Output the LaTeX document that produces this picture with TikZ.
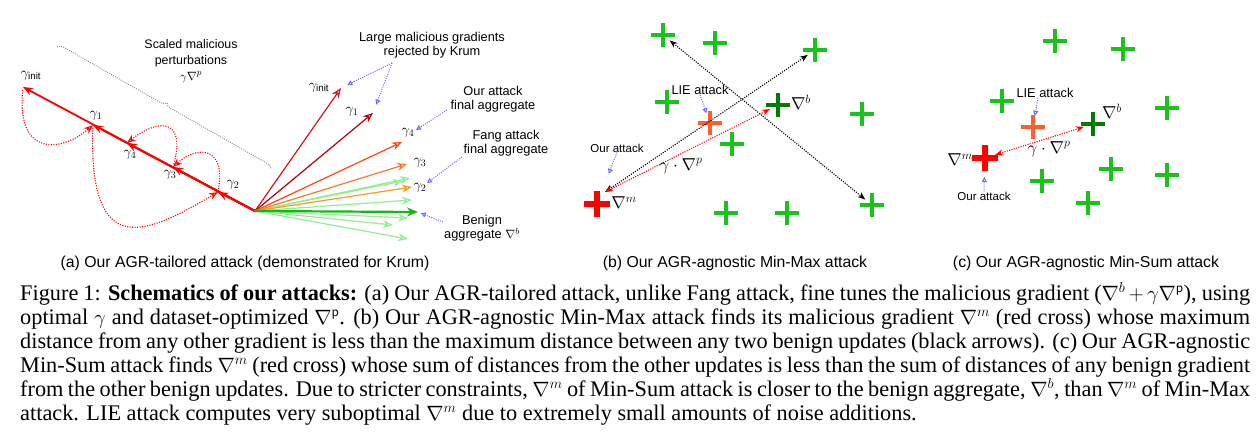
\documentclass[tikz,border=0pt]{standalone}
\usepackage{amsmath}
\usepackage[no-math]{fontspec}
\setmainfont{Liberation Serif}
\setsansfont{Liberation Sans}
\usetikzlibrary{arrows.meta,shapes.misc,decorations.pathreplacing}

\definecolor{crossgreen}{RGB}{25,195,25}
\definecolor{aggrgreen}{RGB}{0,125,0}
\definecolor{liecolor}{RGB}{255,95,45}
\definecolor{hintblue}{RGB}{105,105,255}
\definecolor{fanA}{RGB}{215,20,20}
\definecolor{fanB}{RGB}{185,0,0}
\definecolor{fanC}{RGB}{255,70,20}
\definecolor{fanD}{RGB}{255,120,40}
\definecolor{fanE}{RGB}{255,150,40}
\definecolor{fanlight}{RGB}{145,238,145}
\definecolor{fanbenign}{RGB}{20,185,20}

\tikzset{
  annot/.style={font=\sffamily\fontsize{12.8}{14.5}\selectfont, align=center, inner sep=0pt},
  smallannot/.style={font=\sffamily\fontsize{11.5}{13}\selectfont, inner sep=0pt},
  glabel/.style={font=\fontsize{14}{16}\selectfont, inner sep=0pt},
  mlabel/.style={font=\fontsize{16.5}{18}\selectfont, inner sep=0pt},
  subcap/.style={font=\sffamily\fontsize{15.8}{18}\selectfont, anchor=base, inner sep=0pt},
  gcross/.style={shape=cross out, draw=crossgreen, line width=4.5pt,
    minimum size=12.5pt, inner sep=0pt, rotate=45},
  aggcross/.style={gcross, draw=aggrgreen},
  liecross/.style={gcross, draw=liecolor},
  malcross/.style={gcross, draw=red, line width=5.5pt, minimum size=13.5pt},
  redline/.style={red, line width=1.8pt, -{Stealth[open,length=10pt,width=8pt]}},
  fanarrow/.style={line width=1.2pt, -{Stealth[open,length=10pt,width=8pt]}},
  searchloop/.style={red, line width=1.1pt, dash pattern=on 1.1pt off 1.4pt,
    shorten <=3pt, -{Stealth[open,length=9pt,width=7pt]}},
  hint/.style={hintblue, line width=1pt, dash pattern=on 1pt off 1.3pt,
    -{Triangle[open,length=5pt,width=5pt]}},
  spanarrow/.style={line width=1.1pt, dash pattern=on 1.1pt off 1.3pt,
    {Stealth[open,length=8pt,width=6pt]}-{Stealth[open,length=8pt,width=6pt]}},
}

\begin{document}
\begin{tikzpicture}[x=1pt, y=-1pt]

  \useasboundingbox (0,0) rectangle (1258,436);

  % -------------------------------------------------------
  % (a) AGR-tailored attack (Krum)
  % -------------------------------------------------------
  \coordinate (O)     at (255,211);
  \coordinate (gInit) at (23,87);
  \coordinate (g1)    at (93,125);
  \coordinate (g4)    at (127,143);
  \coordinate (g3)    at (173,167);
  \coordinate (g2)    at (218,192);

  % brace over the scaled perturbations
  \draw[gray, line width=0.9pt, dash pattern=on 0.9pt off 1.3pt,
    decorate, decoration={brace, amplitude=6pt}] (57,47) -- (271,169);
  \node[annot, font=\sffamily\fontsize{12.4}{16}\selectfont] (scaled) at (191,61)
    {Scaled malicious\\perturbations\\$\gamma\nabla^{p}$};

  % search for gamma
  \draw[searchloop] (gInit) .. controls (16,158) and (62,152) .. (g1);
  \draw[searchloop] (g1) .. controls (88,265) and (150,232) .. (g2);
  \draw[searchloop] (g2) .. controls (226,145) and (196,146) .. (g3);
  \draw[searchloop] (g3) .. controls (186,120) and (160,117) .. (g4);

  % scaled perturbations on one line
  \foreach \g in {gInit,g1,g4,g3,g2}
    \draw[redline] (O) -- (\g);

  \node[glabel] (lInit) at (31,76)  {$\gamma_{\textsf{init}}$};
  \node[glabel] (l1)    at (96,116) {$\gamma_1$};
  \node[glabel] (l4)    at (130,155) {$\gamma_4$};
  \node[glabel] (l3)    at (170,175) {$\gamma_3$};
  \node[glabel] (l2)    at (233,185) {$\gamma_2$};

  % fan of aggregates
  \coordinate (fInit) at (341,88);
  \coordinate (f1)    at (373,113);
  \coordinate (f4)    at (402,142);
  \coordinate (f3)    at (407,164);
  \coordinate (f2)    at (412,187);
  \coordinate (fb)    at (418,212);

  \foreach \p in {(403,181),(410,178),(412,200),(408,218),(393,225),(408,239)}
    \draw[fanarrow, fanlight] (O) -- \p;
  \foreach \t/\c in {fInit/fanA, f1/fanB, f4/fanC, f3/fanD, f2/fanE}
    \draw[fanarrow, \c] (O) -- (\t);
  \draw[fanbenign, line width=2.2pt, -{Stealth[length=11pt,width=9pt]}] (O) -- (fb);

  \node[glabel] (fl1)    at (319,88)  {$\gamma_{\textsf{init}}$};
  \node[glabel] (fl2)    at (352,112) {$\gamma_1$};
  \node[glabel] (fl3)    at (408,133) {$\gamma_4$};
  \node[glabel] (fl4)    at (420,163) {$\gamma_3$};
  \node[glabel] (fl5)    at (420,188) {$\gamma_2$};

  % annotations
  \node[annot] (rejected) at (432,45) {Large malicious gradients\\rejected by Krum};
  \coordinate (rejfoot) at (392,63);
  \draw[hint, shorten >=7pt] (rejfoot) -- (fInit);
  \draw[hint, shorten >=9pt] (rejfoot) -- (f1);

  \node[annot] (ours) at (493,99) {Our attack\\final aggregate};
  \coordinate (oursfoot) at (447,110);
  \coordinate (oursend) at (416,130);
  \draw[hint] (oursfoot) -- (oursend);

  \node[annot] (fang) at (506,143) {Fang attack\\final aggregate};
  \coordinate (fangfoot) at (462,157);
  \coordinate (fangend) at (427,183);
  \draw[hint] (fangfoot) -- (fangend);

  \node[annot] (benign) at (482,228) {Benign\\aggregate $\nabla^b$};
  \coordinate (benignfoot) at (443,222);
  \draw[hint, shorten >=3pt] (benignfoot) -- (fb);

  \node[subcap] (capa) at (245,267) {(a) Our AGR-tailored attack (demonstrated for Krum)};

  % -------------------------------------------------------
  % (b) AGR-agnostic Min-Max
  % -------------------------------------------------------
  \node[gcross] (mmA) at (663,35) {};
  \node[gcross] (mmB) at (715,43) {};
  \node[gcross] (mmC) at (815,50) {};
  \node[gcross] (mmD) at (667,102) {};
  \node[gcross] (mmE) at (862,114) {};
  \node[gcross] (mmF) at (732,144) {};
  \node[gcross] (mmG) at (872,205) {};
  \node[gcross] (mmH) at (726,213) {};
  \node[gcross] (mmI) at (787,213) {};
  \node[aggcross] (mmAgg) at (778,105) {};
  \node[liecross] (mmLie) at (710,123) {};
  \node[malcross] (mmMal) at (597,204) {};
  \coordinate (mmMalTop) at ([xshift=8pt,yshift=12pt]mmMal.center);

  \draw[spanarrow] (mmA) -- (mmG);
  \draw[spanarrow] (mmMalTop) -- (mmC);
  \draw[spanarrow, red] (mmMalTop) -- (mmAgg);

  \node[mlabel] (mmGamma) at (681,166) {$\gamma\cdot\nabla^{p}$};
  \node[mlabel] (mmAggLab) at (801,102) {$\nabla^{b}$};
  \node[mlabel] (mmMalLab) at (624,203) {$\nabla^{m}$};

  \node[annot] (mmLieTxt) at (700,90) {LIE attack};
  \draw[hint, shorten >=1pt] (mmLieTxt.south) -- (mmLie);
  \node[smallannot] (mmOurTxt) at (617,148) {Our attack};
  \draw[hint, shorten >=22pt] (mmOurTxt.south) -- (mmMal);

  \node[subcap] (capb) at (735,267) {(b) Our AGR-agnostic Min-Max attack};

  % -------------------------------------------------------
  % (c) AGR-agnostic Min-Sum
  % -------------------------------------------------------
  \node[gcross] (msA) at (1055,41) {};
  \node[gcross] (msB) at (1123,49) {};
  \node[gcross] (msC) at (1002,101) {};
  \node[gcross] (msD) at (1167,108) {};
  \node[gcross] (msE) at (1111,169) {};
  \node[gcross] (msF) at (1167,175) {};
  \node[gcross] (msG) at (1042,181) {};
  \node[gcross] (msH) at (1088,203) {};
  \node[aggcross] (msAgg) at (1093,124) {};
  \node[liecross] (msLie) at (1033,127) {};
  \node[malcross] (msMal) at (985,158) {};

  \draw[spanarrow, red] (msMal) -- (msAgg);

  \node[mlabel] (msGamma) at (1049,149) {$\gamma\cdot\nabla^{p}$};
  \node[mlabel] (msAggLab) at (1112,111) {$\nabla^{b}$};
  \node[mlabel] (msMalLab) at (960,160) {$\nabla^{m}$};

  \node[annot] (msLieTxt) at (1045,93) {LIE attack};
  \draw[hint, shorten >=1pt] ([xshift=-7pt]msLieTxt.south) -- (msLie);
  \node[smallannot] (msOurTxt) at (984,196) {Our attack};
  \draw[hint, shorten >=6pt] (msOurTxt.north) -- (msMal);

  \node[subcap] (capc) at (1086,267) {(c) Our AGR-agnostic Min-Sum attack};

  % -------------------------------------------------------
  % figure caption
  % -------------------------------------------------------
  \node[anchor=base west, text width=1230pt, align=justify, inner sep=0pt,
    font=\fontsize{22.3}{24}\selectfont] (figcap) at (20,300)
    {Figure 1: \textbf{Schematics of our attacks:} (a) Our AGR-tailored attack,
     unlike Fang attack, fine tunes the malicious gradient
     ($\nabla^b+\gamma\nabla^{\mathsf{p}}$), using\linebreak
     optimal $\gamma$ and dataset-optimized $\nabla^{\mathsf{p}}$. (b) Our
     AGR-agnostic Min-Max attack finds its malicious gradient $\nabla^m$ (red
     cross) whose maximum\linebreak
     distance from any other gradient is less than the maximum distance between
     any two benign updates (black arrows). (c) Our AGR-agnostic\linebreak
     Min-Sum attack finds $\nabla^m$ (red cross) whose sum of distances from the
     other updates is less than the sum of distances of any benign gradient\linebreak
     from the other benign updates. Due to stricter constraints, $\nabla^m$ of
     Min-Sum attack is closer to the benign aggregate, $\nabla^b$, than
     $\nabla^m$ of Min-Max\linebreak
     attack. LIE attack computes very suboptimal $\nabla^m$ due to extremely
     small amounts of noise additions.};

\end{tikzpicture}
\end{document}
